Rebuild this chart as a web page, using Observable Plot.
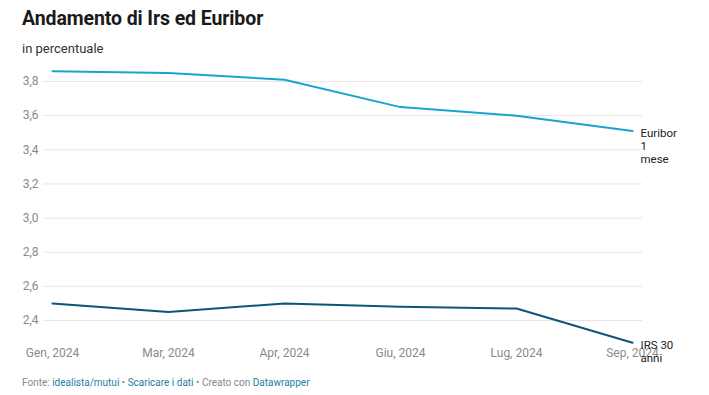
<!DOCTYPE html>
<html>
<head>
<meta charset="utf-8">
<script src="https://cdn.jsdelivr.net/npm/d3@7"></script>
<script src="https://cdn.jsdelivr.net/npm/@observablehq/plot@0.6"></script>
<style>
  html, body { margin: 0; padding: 0; background: #fff; }
  body { width: 709px; height: 395px; position: relative; overflow: hidden; font-family: Roboto, "Noto Sans", sans-serif; }
  #title { position: absolute; left: 22px; top: 7px; font-size: 19.5px; font-weight: 700; color: #1a1a1a; letter-spacing: -0.1px; }
  #subtitle { position: absolute; left: 22px; top: 41px; font-size: 13px; color: #333; }
  #chart { position: absolute; left: 0; top: 60px; }
  #footer { position: absolute; left: 22px; top: 377px; font-size: 10px; color: #888; }
  #footer a { color: #1d81a2; text-decoration: none; }
</style>
</head>
<body>
<div id="title">Andamento di Irs ed Euribor</div>
<div id="subtitle">in percentuale</div>
<div id="chart"></div>
<div id="footer">Fonte: <a>idealista/mutui</a> • <a>Scaricare i dati</a> • Creato con <a>Datawrapper</a></div>
<script>
const months = ["Gen, 2024", "Mar, 2024", "Apr, 2024", "Giu, 2024", "Lug, 2024", "Sep, 2024"];
const euribor = [3.86, 3.85, 3.81, 3.65, 3.60, 3.51];
const irs = [2.50, 2.45, 2.50, 2.48, 2.47, 2.27];
const seriesNames = ["Euribor 1 mese", "IRS 30 anni"];
const endLabels = ["Euribor\n1\nmese", "IRS 30\nanni"];
const seriesColors = ["#18a4cf", "#0b5677"];
const yTicks = [2.4, 2.6, 2.8, 3.0, 3.2, 3.4, 3.6, 3.8];

const seriesValues = [euribor, irs];
const data = [];
seriesNames.forEach((name, s) => {
  months.forEach((m, i) => data.push({series: name, month: m, value: seriesValues[s][i]}));
});
const ends = seriesNames.map((name, s) => ({
  series: name, month: months[months.length - 1],
  value: seriesValues[s][months.length - 1], label: endLabels[s]
}));

const fmt = v => v.toFixed(1).replace(".", ",");

const chart = Plot.plot({
  width: 709,
  height: 310,
  marginLeft: 43,
  marginRight: 67,
  marginTop: 21,
  marginBottom: 50,
  style: {fontFamily: "Roboto, sans-serif", fontSize: "12px", background: "transparent"},
  x: {type: "point", domain: months, padding: 0, insetLeft: 8, insetRight: 9, label: null},
  y: {domain: [2.4, 3.8], label: null},
  color: {domain: seriesNames, range: seriesColors},
  marks: [
    Plot.ruleY(yTicks, {stroke: "#e6e6e6", strokeWidth: 1}),
    Plot.axisY({ticks: yTicks, tickFormat: fmt, tickSize: 0, tickPadding: 5, fill: "#8a8a8a", fontSize: 12, label: null}),
    Plot.axisX({tickSize: 0, tickPadding: 28, fill: "#8a8a8a", fontSize: 12, label: null}),
    Plot.line(data, {x: "month", y: "value", z: "series", stroke: "series", strokeWidth: 2}),
    Plot.text(ends, {x: "month", y: "value", text: "label", textAnchor: "start", lineAnchor: "top", dx: 8, dy: -3, fill: "#222", fontSize: 11.5, lineHeight: 1.13})
  ]
});
document.getElementById("chart").appendChild(chart);
</script>
</body>
</html>
